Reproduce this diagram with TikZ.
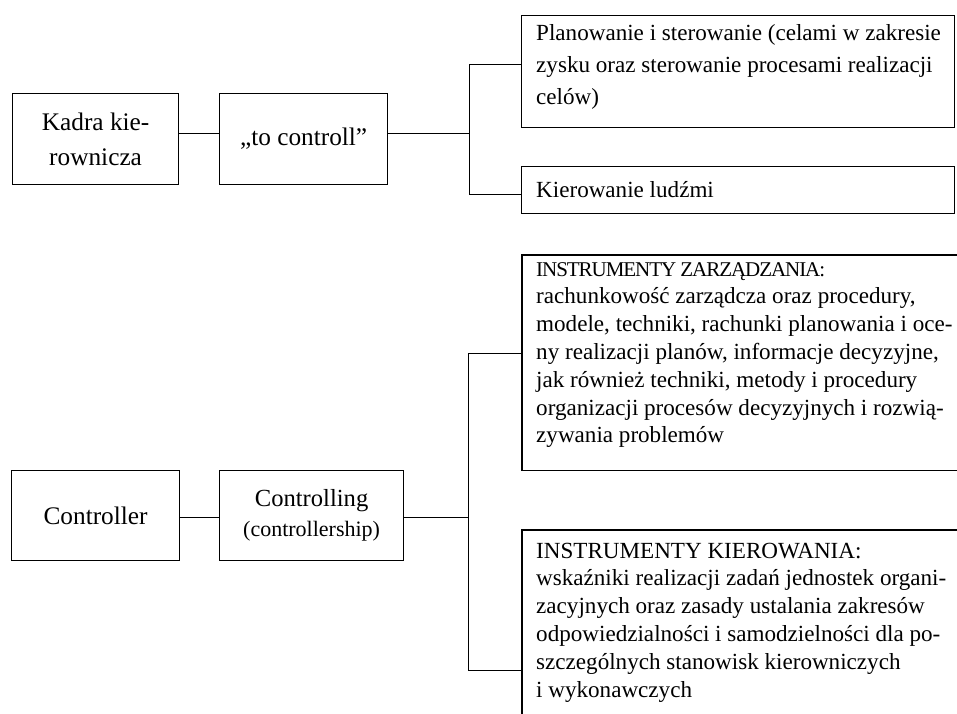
\documentclass[tikz,border=0pt]{standalone}
\usepackage{fontspec}
\setmainfont{Liberation Serif}
\begin{document}
\begin{tikzpicture}[x=1pt,y=-1pt,
  boxst/.style={draw, line width=1.2pt, rectangle, inner sep=0pt, anchor=north west, align=center, font=\fontsize{25.3}{35}\selectfont},
  openbox/.style={draw=none, rectangle, inner sep=0pt, anchor=north west},
  boxline/.style={line width=1.2pt},
  txt/.style={inner sep=0pt, anchor=base west, font=\fontsize{23.1}{27.8}\selectfont},
  conn/.style={line width=1pt}]
\useasboundingbox (0,0) rectangle (957,713);
\fill[white] (0,0) rectangle (957,713);
% top group
\node[boxst, minimum width=166pt, minimum height=91pt] (kadra) at (12,93) {Kadra kie-\\rownicza};
\node[boxst, minimum width=168pt, minimum height=91pt] (toc) at (219,93) {„to controll”};
\node[boxst, minimum width=433pt, minimum height=112pt] (plan) at (521,15) {};
\node[boxst, minimum width=433pt, minimum height=47pt] (kier) at (521,166) {};
\node[txt, font=\fontsize{23.1}{32}\selectfont] (plantxt) at (536,40) {\parbox[t]{600pt}{\raggedright Planowanie i sterowanie (celami w zakresie\\zysku oraz sterowanie procesami realizacji\\celów)}};
\node[txt] (kiertxt) at (536,197) {Kierowanie ludźmi};
\coordinate (jt) at (469,133);
\coordinate (b1) at (469,64);
\coordinate (b2) at (469,194);
\draw[conn] (kadra.east |- jt) -- (toc.west |- jt);
\draw[conn] (toc.east |- jt) -- (jt);
\draw[conn] (b1) -- (b2);
\draw[conn] (b1) -- (plan.west |- b1);
\draw[conn] (b2) -- (kier.west |- b2);
% bottom group
\node[boxst, minimum width=168pt, minimum height=90pt] (ctrl) at (11,470) {Controller};
\node[boxst, minimum width=184pt, minimum height=90pt, font=\fontsize{24.6}{30}\selectfont] (ctrlg) at (219,470) {Controlling\\{\fontsize{22}{30}\selectfont (controllership)}};
\node[openbox, minimum width=450pt, minimum height=215pt] (zarz) at (522,255) {};
\draw[boxline] (zarz.north east) -- (zarz.north west) -- (zarz.south west) -- (zarz.south east);
\node[openbox, minimum width=450pt, minimum height=220pt] (kierw) at (522,530) {};
\draw[boxline] (kierw.north east) -- (kierw.north west) -- (kierw.south west);
\node[txt] (zarztxt) at (536,276) {\parbox[t]{600pt}{\raggedright {\fontsize{21}{27.8}\selectfont\addfontfeature{LetterSpace=-5}INSTRUMENTY ZARZĄDZANIA:}\\rachunkowość zarządcza oraz procedury,\\modele, techniki, rachunki planowania i oce-\\ny realizacji planów, informacje decyzyjne,\\jak również techniki, metody i procedury\\organizacji procesów decyzyjnych i rozwią-\\zywania problemów}};
\node[txt] (kierwtxt) at (536,558) {\parbox[t]{600pt}{\raggedright INSTRUMENTY KIEROWANIA:\\wskaźniki realizacji zadań jednostek organi-\\zacyjnych oraz zasady ustalania zakresów\\odpowiedzialności i samodzielności dla po-\\szczególnych stanowisk kierowniczych\\i wykonawczych}};
\coordinate (jb) at (468,517);
\coordinate (b3) at (468,353);
\coordinate (b4) at (468,670);
\draw[conn] (ctrl.east |- jb) -- (ctrlg.west |- jb);
\draw[conn] (ctrlg.east |- jb) -- (jb);
\draw[conn] (b3) -- (b4);
\draw[conn] (b3) -- (zarz.west |- b3);
\draw[conn] (b4) -- (kierw.west |- b4);
\end{tikzpicture}
\end{document}
